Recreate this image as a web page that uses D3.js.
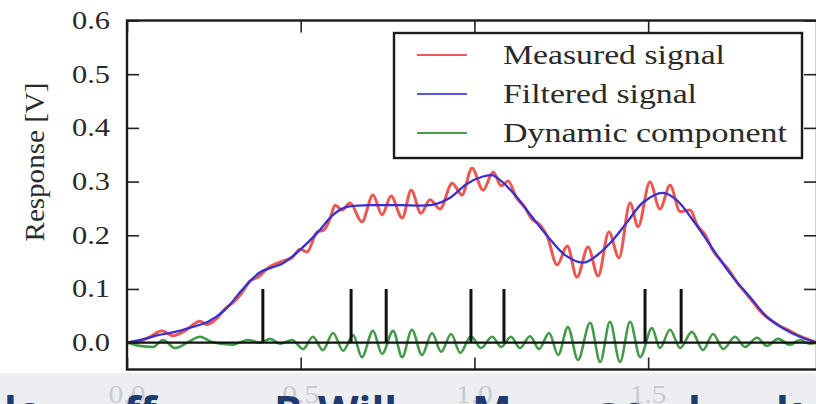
<!DOCTYPE html>
<html>
<head>
<meta charset="utf-8">
<script src="https://cdn.jsdelivr.net/npm/d3@7"></script>
<style>
  html, body { margin: 0; padding: 0; background: #fff; }
  svg { display: block; }
</style>
</head>
<body>
<div id="chart"></div>
<script>
// Data (x in the plot's units, response in V)
var filtered = [
  [0, 0], [0.052, 0.007], [0.089, 0.014], [0.138, 0.020], [0.187, 0.029],
  [0.233, 0.039], [0.282, 0.061], [0.331, 0.098], [0.383, 0.131], [0.449, 0.148],
  [0.498, 0.173], [0.547, 0.204], [0.593, 0.238], [0.628, 0.252], [0.70, 0.256],
  [0.786, 0.256], [0.881, 0.257], [0.93, 0.270], [0.979, 0.296], [1.022, 0.309],
  [1.051, 0.312], [1.068, 0.306], [1.117, 0.275], [1.166, 0.234], [1.212, 0.197],
  [1.261, 0.163], [1.313, 0.149], [1.341, 0.157], [1.39, 0.185], [1.439, 0.224],
  [1.485, 0.261], [1.543, 0.279], [1.583, 0.265], [1.629, 0.228], [1.678, 0.182],
  [1.698, 0.163], [1.744, 0.122], [1.793, 0.085], [1.842, 0.048], [1.888, 0.027],
  [1.937, 0.011], [1.986, 0.0]
];

var measured = [
  [0, 0], [0.037, 0.003], [0.066, 0.011], [0.101, 0.022], [0.132, 0.013],
  [0.167, 0.022], [0.210, 0.040], [0.230, 0.034], [0.253, 0.042], [0.282, 0.063],
  [0.311, 0.078], [0.331, 0.093], [0.354, 0.115], [0.377, 0.122], [0.406, 0.139],
  [0.449, 0.152], [0.475, 0.158], [0.498, 0.174], [0.518, 0.169], [0.547, 0.206],
  [0.567, 0.210], [0.584, 0.230], [0.599, 0.256], [0.619, 0.247], [0.642, 0.260],
  [0.676, 0.225], [0.708, 0.275], [0.734, 0.238], [0.760, 0.273], [0.792, 0.232],
  [0.818, 0.284], [0.846, 0.241], [0.872, 0.266], [0.901, 0.249], [0.936, 0.297],
  [0.964, 0.275], [0.993, 0.325], [1.025, 0.284], [1.054, 0.318], [1.077, 0.292],
  [1.097, 0.301], [1.120, 0.271], [1.146, 0.251], [1.163, 0.232], [1.189, 0.219],
  [1.209, 0.199], [1.238, 0.145], [1.267, 0.180], [1.295, 0.122], [1.327, 0.178],
  [1.356, 0.124], [1.387, 0.206], [1.416, 0.158], [1.448, 0.260], [1.471, 0.216],
  [1.505, 0.299], [1.534, 0.249], [1.563, 0.293], [1.592, 0.244], [1.621, 0.247],
  [1.641, 0.219], [1.664, 0.201], [1.687, 0.171], [1.713, 0.150], [1.736, 0.132],
  [1.759, 0.109], [1.779, 0.094], [1.799, 0.078], [1.822, 0.059], [1.845, 0.046],
  [1.874, 0.033], [1.908, 0.022], [1.937, 0.012], [1.965, 0.005], [1.986, 0.0]
];

var dynamic = [
  [0, 0], [0.037, -0.006], [0.075, -0.008], [0.104, 0.005], [0.138, -0.010],
  [0.176, 0.001], [0.210, 0.011], [0.245, 0.001], [0.302, -0.004], [0.348, 0.005],
  [0.383, 0.0], [0.412, 0.007], [0.440, -0.002], [0.475, 0.005], [0.507, -0.012],
  [0.535, 0.011], [0.564, -0.014], [0.593, 0.018], [0.622, -0.015], [0.651, 0.014],
  [0.676, -0.027], [0.708, 0.022], [0.734, -0.021], [0.766, 0.022], [0.792, -0.027],
  [0.820, 0.024], [0.849, -0.023], [0.878, 0.018], [0.904, -0.017], [0.933, 0.016],
  [0.959, -0.019], [0.990, 0.012], [1.019, -0.010], [1.051, 0.011], [1.077, -0.008],
  [1.105, 0.011], [1.131, -0.010], [1.160, 0.012], [1.186, -0.012], [1.215, 0.018],
  [1.241, -0.023], [1.269, 0.029], [1.298, -0.032], [1.333, 0.037], [1.362, -0.036],
  [1.390, 0.039], [1.419, -0.036], [1.448, 0.039], [1.477, -0.027], [1.511, 0.027],
  [1.534, -0.010], [1.563, 0.024], [1.592, -0.010], [1.626, 0.020], [1.658, -0.014],
  [1.687, 0.016], [1.716, -0.012], [1.750, 0.011], [1.779, -0.008], [1.813, 0.009],
  [1.842, -0.006], [1.874, 0.007], [1.908, -0.004], [1.937, 0.005], [1.965, -0.002],
  [1.986, 0]
];

// impulse positions (black stems)
var impulseX = [0.391, 0.645, 0.746, 0.990, 1.085, 1.491, 1.595];
var impulseH = 0.1;

var xTicks = [0, 0.5, 1.0, 1.5];
var yTicks = [0, 0.1, 0.2, 0.3, 0.4, 0.5, 0.6];
var legendNames = ["Measured signal", "Filtered signal", "Dynamic component"];
var legendColors = ["#ef5a55", "#5a55ee", "#4f9a4f"];
var legendWidths = [222, 194, 284];

// Placement
var width = 816;
var height = 404;
var plotLeft = 127;
var plotRight = 817;
var plotTop = 20.5;
var plotBottom = 369.5;
var serif = "'Liberation Serif', 'Times New Roman', serif";

var svg = d3
  .select("#chart")
  .append("svg")
  .attr("width", width)
  .attr("height", height);

var xScale = d3.scaleLinear().domain([0, 1.986]).range([plotLeft, plotRight]);
var yScale = d3.scaleLinear().domain([-0.05, 0.6]).range([plotBottom, plotTop]);

svg.append("clipPath")
  .attr("id", "plotClip")
  .append("rect")
  .attr("x", plotLeft)
  .attr("y", plotTop)
  .attr("width", plotRight - plotLeft)
  .attr("height", plotBottom - plotTop);

var plot = svg.append("g").attr("clip-path", "url(#plotClip)");

var lineGen = function(curve) {
  return d3.line()
    .x(function(d) { return xScale(d[0]); })
    .y(function(d) { return yScale(d[1]); })
    .curve(curve);
};

// Measured signal (red)
plot.append("path")
  .datum(measured)
  .attr("d", lineGen(d3.curveMonotoneX))
  .attr("fill", "none")
  .attr("stroke", "#e8463c")
  .attr("stroke-opacity", 0.9)
  .attr("stroke-width", 3);

// Filtered signal (blue)
plot.append("path")
  .datum(filtered)
  .attr("d", lineGen(d3.curveCatmullRom.alpha(0.5)))
  .attr("fill", "none")
  .attr("stroke", "#3a30d2")
  .attr("stroke-width", 2.3);

// Dynamic component (green)
plot.append("path")
  .datum(dynamic)
  .attr("d", lineGen(d3.curveMonotoneX))
  .attr("fill", "none")
  .attr("stroke", "#45994a")
  .attr("stroke-width", 2.6);

// Stem baseline and stems
plot.append("line")
  .attr("x1", xScale(0))
  .attr("x2", xScale(1.986))
  .attr("y1", yScale(0))
  .attr("y2", yScale(0))
  .attr("stroke", "#111")
  .attr("stroke-width", 2.2);

plot.selectAll(".stem")
  .data(impulseX)
  .enter()
  .append("line")
  .attr("class", "stem")
  .attr("x1", function(d) { return xScale(d); })
  .attr("x2", function(d) { return xScale(d); })
  .attr("y1", yScale(0))
  .attr("y2", yScale(impulseH))
  .attr("stroke", "#111")
  .attr("stroke-width", 3);

////////// Axes (inward ticks on all four sides) //////////
svg.append("g")
  .attr("transform", "translate(" + plotLeft + ",0)")
  .call(d3.axisLeft(yScale).tickValues(yTicks).tickSize(-12).tickFormat(d3.format(".1f")).tickPadding(17))
  .call(function(g) {
    g.select(".domain").remove();
    g.selectAll(".tick line").attr("stroke", "#222").attr("stroke-width", 1.6);
    g.selectAll(".tick text")
      .attr("font-family", serif)
      .attr("font-size", 25)
      .attr("fill", "#2a2a2a")
      .attr("textLength", 38)
      .attr("lengthAdjust", "spacingAndGlyphs");
  });

svg.append("g")
  .attr("transform", "translate(" + plotRight + ",0)")
  .call(d3.axisRight(yScale).tickValues(yTicks).tickSize(-13).tickFormat(""))
  .call(function(g) {
    g.select(".domain").remove();
    g.selectAll(".tick line").attr("stroke", "#222").attr("stroke-width", 1.6);
  });

svg.append("g")
  .attr("transform", "translate(0," + plotBottom + ")")
  .call(d3.axisBottom(xScale).tickValues(xTicks).tickSize(-12).tickFormat(""))
  .call(function(g) {
    g.select(".domain").remove();
    g.selectAll(".tick line").attr("stroke", "#222").attr("stroke-width", 1.6);
  });

svg.append("g")
  .attr("transform", "translate(0," + plotTop + ")")
  .call(d3.axisTop(xScale).tickValues(xTicks).tickSize(-12).tickFormat(""))
  .call(function(g) {
    g.select(".domain").remove();
    g.selectAll(".tick line").attr("stroke", "#222").attr("stroke-width", 1.6);
  });

// Frame
svg.append("rect")
  .attr("x", plotLeft)
  .attr("y", plotTop)
  .attr("width", plotRight - plotLeft)
  .attr("height", plotBottom - plotTop)
  .attr("fill", "none")
  .attr("stroke", "#1a1a1a")
  .attr("stroke-width", 2.4);

// Y label
svg.append("text")
  .attr("transform", "translate(35,162) rotate(-90)")
  .attr("text-anchor", "middle")
  .attr("dominant-baseline", "central")
  .attr("font-family", serif)
  .attr("font-size", 27)
  .attr("fill", "#2a2a2a")
  .attr("textLength", 159)
  .attr("lengthAdjust", "spacingAndGlyphs")
  .text("Response [V]");

////////// Legend //////////
var legend = svg.append("g");
legend.append("rect")
  .attr("x", 394)
  .attr("y", 33)
  .attr("width", 408)
  .attr("height", 125)
  .attr("fill", "#fff")
  .attr("stroke", "#1a1a1a")
  .attr("stroke-width", 2.4);

var rows = legend.selectAll(".row")
  .data(legendNames)
  .enter()
  .append("g")
  .attr("class", "row")
  .attr("transform", function(d, i) { return "translate(0," + (55 + i * 39) + ")"; });

rows.append("line")
  .attr("x1", 417)
  .attr("x2", 467)
  .attr("stroke", function(d, i) { return legendColors[i]; })
  .attr("stroke-width", 2.2);

rows.append("text")
  .attr("x", 503)
  .attr("dy", "0.33em")
  .attr("font-family", serif)
  .attr("font-size", 28)
  .attr("fill", "#2a2a2a")
  .attr("textLength", function(d, i) { return legendWidths[i]; })
  .attr("lengthAdjust", "spacingAndGlyphs")
  .text(function(d) { return d; });

////////// Bottom band (faded x tick labels behind a caption) //////////
svg.append("rect")
  .attr("x", 0)
  .attr("y", 373)
  .attr("width", width)
  .attr("height", height - 373)
  .attr("fill", "#edeef1");

svg.selectAll(".xlab")
  .data(xTicks)
  .enter()
  .append("text")
  .attr("class", "xlab")
  .attr("x", function(d) { return xScale(d); })
  .attr("y", 394)
  .attr("text-anchor", "middle")
  .attr("dominant-baseline", "central")
  .attr("font-family", serif)
  .attr("font-size", 25)
  .attr("fill", "#c9cacc")
  .attr("textLength", 37)
  .attr("lengthAdjust", "spacingAndGlyphs")
  .text(d3.format(".1f"));

var captionBits = [
  { x: 4, t: "lo" },
  { x: 124, t: "ff" },
  { x: 274, t: "B." },
  { x: 318, t: "Will" },
  { x: 472, t: "M" },
  { x: 596, t: "ac" },
  { x: 688, t: "l" },
  { x: 776, t: "k" }
];
svg.selectAll(".cap")
  .data(captionBits)
  .enter()
  .append("text")
  .attr("class", "cap")
  .attr("x", function(d) { return d.x; })
  .attr("y", 426)
  .attr("font-family", "'Open Sans', 'Noto Sans', sans-serif")
  .attr("font-weight", 700)
  .attr("font-size", 42)
  .attr("fill", "#1e3a6e")
  .text(function(d) { return d.t; });
</script>
</body>
</html>
